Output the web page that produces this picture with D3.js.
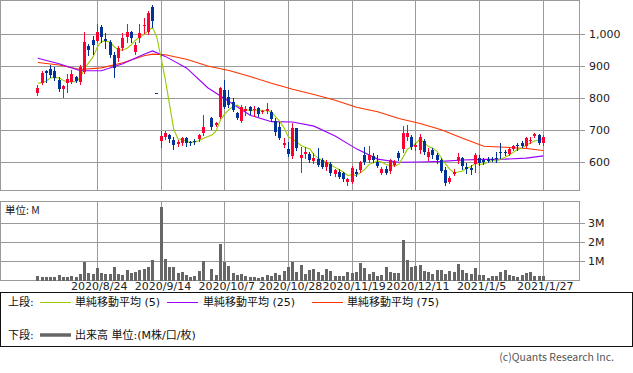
<!DOCTYPE html>
<html><head><meta charset="utf-8">
<script src="https://cdn.jsdelivr.net/npm/d3@7"></script>
<style>
html,body{margin:0;padding:0;background:#fff;}
svg{display:block;}
text{font-family:"DejaVu Sans","Noto Sans CJK JP",sans-serif;}
</style></head><body>
<svg id="chart" width="633" height="373"></svg>
<script>
// ---- data ----
const dates = [
"2020/8/3","2020/8/4","2020/8/5","2020/8/6","2020/8/7","2020/8/11","2020/8/12","2020/8/13","2020/8/14",
"2020/8/17","2020/8/18","2020/8/19","2020/8/20","2020/8/21","2020/8/24","2020/8/25","2020/8/26","2020/8/27","2020/8/28","2020/8/31",
"2020/9/1","2020/9/2","2020/9/3","2020/9/4","2020/9/7","2020/9/8","2020/9/9","2020/9/10","2020/9/11",
"2020/9/14","2020/9/15","2020/9/16","2020/9/17","2020/9/18","2020/9/23","2020/9/24","2020/9/25","2020/9/28","2020/9/29","2020/9/30",
"2020/10/1","2020/10/2","2020/10/5","2020/10/6","2020/10/7","2020/10/8","2020/10/9","2020/10/12","2020/10/13","2020/10/14","2020/10/15","2020/10/16",
"2020/10/19","2020/10/20","2020/10/21","2020/10/22","2020/10/23","2020/10/26","2020/10/27","2020/10/28","2020/10/29","2020/10/30",
"2020/11/2","2020/11/4","2020/11/5","2020/11/6","2020/11/9","2020/11/10","2020/11/11","2020/11/12","2020/11/13",
"2020/11/16","2020/11/17","2020/11/18","2020/11/19","2020/11/20","2020/11/24","2020/11/25","2020/11/26","2020/11/27","2020/11/30",
"2020/12/1","2020/12/2","2020/12/3","2020/12/4","2020/12/7","2020/12/8","2020/12/9","2020/12/10","2020/12/11",
"2020/12/14","2020/12/15","2020/12/16","2020/12/17","2020/12/18","2020/12/21","2020/12/22","2020/12/23","2020/12/24","2020/12/25",
"2020/12/28","2020/12/29","2020/12/30","2021/1/4","2021/1/5","2021/1/6","2021/1/7","2021/1/8",
"2021/1/12","2021/1/13","2021/1/14","2021/1/15","2021/1/18","2021/1/19","2021/1/20","2021/1/21","2021/1/22",
"2021/1/25","2021/1/26","2021/1/27"];

const open  = [817,849,885,891,885,857,828,849,852,867,852,883,963,982,980,1022,984,976,935,925,
956,992,1006,946,987,1027,1006,1084,816,667,678,685,670,657,661,675,664,668,672,691,
null,737,717,743,826,805,790,754,729,760,772,762,770,757,760,756,729,711,655,642,
621,706,614,625,625,604,610,607,586,594,562,571,566,540,539,571,576,623,607,621,
602,567,578,574,592,628,641,680,678,648,638,668,618,640,622,607,576,540,564,605,
612,586,582,595,615,608,610,610,612,632,631,626,641,655,659,651,667,682,685,661];
const high  = [841,886,890,904,899,866,841,876,888,870,905,1006,970,994,1032,1029,1005,982,946,962,
1003,1032,1010,975,1032,1050,1072,1092,816,699,697,690,678,670,679,680,668,672,690,748,
null,743,727,835,857,826,800,757,780,775,776,775,774,765,784,763,737,726,675,665,
722,708,649,649,633,630,645,612,606,600,580,578,570,552,590,578,605,649,652,630,
622,586,590,610,608,636,713,716,685,660,688,672,644,646,628,612,586,556,580,630,
618,597,592,628,622,615,618,616,633,659,638,648,655,660,668,678,680,691,688,684];
const low   = [810,846,852,866,857,822,805,821,848,850,846,878,935,938,977,977,956,930,867,918,
950,977,975,940,977,1003,1000,1022,816,649,672,665,641,650,655,650,655,658,668,685,
null,704,714,737,769,774,760,735,725,748,752,745,745,753,755,730,685,674,648,620,
612,640,571,613,602,598,588,582,576,561,556,550,543,529,536,558,570,595,600,602,
584,563,563,566,588,608,633,670,641,640,628,625,607,615,598,570,530,536,560,598,
580,566,562,570,592,596,600,603,602,612,622,622,637,640,648,648,661,679,656,655];
const close = [832,878,878,873,862,828,838,859,876,855,899,976,951,966,1006,991,980,935,894,956,
989,1008,987,967,1005,1030,1065,1042,816,682,692,672,654,664,675,659,659,662,685,711,
null,711,724,833,774,780,765,740,774,768,760,768,752,760,768,734,696,677,661,625,
706,646,623,631,607,612,593,586,600,566,576,555,548,548,581,562,600,602,623,607,
590,578,568,607,602,612,692,692,647,655,678,632,633,622,607,574,534,552,570,618,
590,579,576,622,598,600,605,607,609,629,629,641,651,652,652,675,671,688,659,680];
// volume in millions of shares
const volume = [0.25,0.18,0.18,0.18,0.18,0.28,0.16,0.19,0.25,0.16,0.33,0.96,0.39,0.33,0.65,0.39,0.33,0.33,0.70,0.33,
0.28,0.53,0.39,0.42,0.56,0.61,0.70,1.07,0,3.86,1.12,0.70,0.70,0.39,0.46,0.28,0.16,0.21,0.49,1.00,
null,0.60,0.28,1.91,0.96,0.75,0.37,0.26,0.33,0.25,0.19,0.19,0.12,0.19,0.28,0.21,0.39,0.28,0.49,0.70,
0.96,0.44,0.81,0.33,0.56,0.58,0.45,0.28,0.60,0.49,0.23,0.23,0.23,0.42,0.37,0.46,0.89,0.63,0.32,0.42,
0.25,0.28,0.70,0.42,0.39,0.39,2.12,1.07,0.72,0.77,0.81,0.49,0.46,0.33,0.54,0.54,0.33,0.49,0.42,0.84,
0.54,0.40,0.33,0.63,0.28,0.28,0.14,0.25,0.25,0.42,0.53,0.28,0.21,0.18,0.28,0.39,0.42,0.23,0.25,0.25];
// closes of the 4 sessions before the first shown date (for the 5-day average)
const priorCloses = [868,853,823,859];
// 25- and 75-day averages at these sessions
const maIndex = [0,5,10,15,20,25,27,30,35,40,45,50,55,60,65,70,75,80,85,90,95,100,105,110,115,119];
const ma25 = [925,908,886,886,908,938,948,931,895,833,790,747,727,726,713,682,642,610,600,601,603,607,609,610,613,620];
const ma75 = [912,904,890,895,911,933,938,936,922,901,887,868,847,828,812,794,772,758,737,721,702,675,650,647,643,637];

const dateTicks = ["2020/8/24","2020/9/14","2020/10/7","2020/10/28","2020/11/19","2020/12/11","2021/1/5","2021/1/27"];
const priceTicks = [600,700,800,900,1000];
const volTicks = [1,2,3];
const volTickLabels = ["1M","2M","3M"];

// ---- layout ----
const svg = d3.select("#chart");
const W = 633, H = 373;
const plotL = 0.5, plotR = 579.5;
const topT = 0.5, topB = 190.5;
const volT = 201.5, volB = 280.5;
const RED = "#ff0033", BLUE = "#003399", GRID = "#9a9a9a";
const C5 = "#99cc00", C25 = "#9900ff", C75 = "#ff3300";

svg.append("rect").attr("width", W).attr("height", H).attr("fill", "#fff");

const x = d3.scaleLinear().domain([0, dates.length - 1]).range([37.83, 543.3]);
const yP = d3.scaleLinear().domain([600, 1000]).range([162.3, 34.3]);
const yV = d3.scaleLinear().domain([0, 3]).range([280.3, 223.3]);

const px = i => Math.floor(x(i));
const gx = d => Math.floor(x(dates.indexOf(d))) + 0.5;

// grids
const g = svg.append("g").attr("stroke", GRID).attr("stroke-width", 1).attr("fill", "none").attr("shape-rendering", "crispEdges");
priceTicks.forEach(v => {
  const yy = Math.round(yP(v)) + 0.5;
  g.append("line").attr("x1", plotL).attr("x2", 585).attr("y1", yy).attr("y2", yy);
});
volTicks.forEach(v => {
  const yy = Math.round(yV(v)) + 0.5;
  g.append("line").attr("x1", plotL).attr("x2", 585).attr("y1", yy).attr("y2", yy);
});
dateTicks.forEach(d => {
  const xx = gx(d);
  g.append("line").attr("x1", xx).attr("x2", xx).attr("y1", topT).attr("y2", topB);
  g.append("line").attr("x1", xx).attr("x2", xx).attr("y1", volT).attr("y2", volB);
});
g.append("rect").attr("x", plotL).attr("y", topT).attr("width", plotR - plotL).attr("height", topB - topT);
g.append("rect").attr("x", plotL).attr("y", volT).attr("width", plotR - plotL).attr("height", volB - volT);

// axis labels
const lab = svg.append("g").attr("font-size", "11px").attr("fill", "#222");
priceTicks.forEach(v => {
  lab.append("text").attr("x", 589).attr("y", yP(v)).attr("dy", "0.36em").text(d3.format(",")(v));
});
volTicks.forEach((v, k) => {
  lab.append("text").attr("x", 588).attr("y", yV(v)).attr("dy", "0.36em").text(volTickLabels[k]);
});
dateTicks.forEach(d => {
  lab.append("text").attr("x", x(dates.indexOf(d)) + 2).attr("y", 289.5).attr("text-anchor", "middle").text(d);
});
svg.append("text").attr("x", 5).attr("y", 213.5).attr("font-size", "10.5px").attr("fill", "#222")
  .style("font-family", "'Noto Sans CJK JP',sans-serif").text("単位: M");

// volume bars
const vg = svg.append("g").attr("fill", "#666").attr("shape-rendering", "crispEdges");
volume.forEach((v, i) => {
  if (v == null || v <= 0) return;
  const top = Math.round(yV(v));
  vg.append("rect").attr("x", px(i) - 1).attr("width", 3).attr("y", top).attr("height", Math.round(yV(0)) - top + 0.5);
});

// moving averages
const ma5 = [];
const hist = priorCloses.slice();
close.forEach((c, i) => {
  if (c == null) return;
  hist.push(c);
  const last = hist.slice(-5);
  ma5.push({i, v: d3.mean(last)});
});
const line = d3.line().x(d => x(d.i)).y(d => yP(d.v));
const lg = svg.append("g").attr("fill", "none").attr("stroke-width", 1.1);
lg.append("path").datum(maIndex.map((i, k) => ({i, v: ma75[k]}))).attr("stroke", C75).attr("d", line);
lg.append("path").datum(maIndex.map((i, k) => ({i, v: ma25[k]}))).attr("stroke", C25).attr("d", line);
lg.append("path").datum(ma5).attr("stroke", C5).attr("d", line);

// candles
const cg = svg.append("g").attr("shape-rendering", "crispEdges");
close.forEach((c, i) => {
  if (c == null) return;
  const o = open[i], h = high[i], l = low[i];
  const col = c > o ? RED : BLUE;
  const xx = px(i);
  cg.append("line").attr("x1", xx + 0.5).attr("x2", xx + 0.5)
    .attr("y1", Math.round(yP(h))).attr("y2", Math.round(yP(l)) + 1).attr("stroke", col);
  const yt = Math.round(yP(Math.max(o, c))), yb = Math.round(yP(Math.min(o, c)));
  cg.append("rect").attr("x", xx - 1).attr("width", 3).attr("y", yt).attr("height", Math.max(1, yb - yt)).attr("fill", col);
});

// legend
const leg = svg.append("g");
leg.append("rect").attr("x", 0.5).attr("y", 292.5).attr("width", 632).attr("height", 54)
  .attr("fill", "none").attr("stroke", "#111").attr("shape-rendering", "crispEdges");
const lt = leg.append("g").attr("font-size", "11px").attr("fill", "#111")
  .style("font-family", "'Noto Sans CJK JP',sans-serif");
lt.append("text").attr("x", 8).attr("y", 306).text("上段:");
lt.append("text").attr("x", 8).attr("y", 339).text("下段:");
const items = [
  {x1: 40, x2: 71, tx: 75, c: C5, t: "単純移動平均 (5)"},
  {x1: 167, x2: 198, tx: 203, c: C25, t: "単純移動平均 (25)"},
  {x1: 312, x2: 343, tx: 347, c: C75, t: "単純移動平均 (75)"}
];
items.forEach(it => {
  leg.append("line").attr("x1", it.x1).attr("x2", it.x2).attr("y1", 302.5).attr("y2", 302.5).attr("stroke", it.c);
  lt.append("text").attr("x", it.tx).attr("y", 306).text(it.t);
});
leg.append("line").attr("x1", 40).attr("x2", 71).attr("y1", 335).attr("y2", 335).attr("stroke", "#666").attr("stroke-width", 3.5);
lt.append("text").attr("x", 75).attr("y", 339).text("出来高 単位:(M株/口/枚)");

svg.append("text").attr("x", 614).attr("y", 361).attr("text-anchor", "end").attr("font-size", "10.5px")
  .attr("fill", "#555").style("font-family", "'Noto Sans CJK JP',sans-serif").text("(c)Quants Research Inc.");
</script>
</body></html>
